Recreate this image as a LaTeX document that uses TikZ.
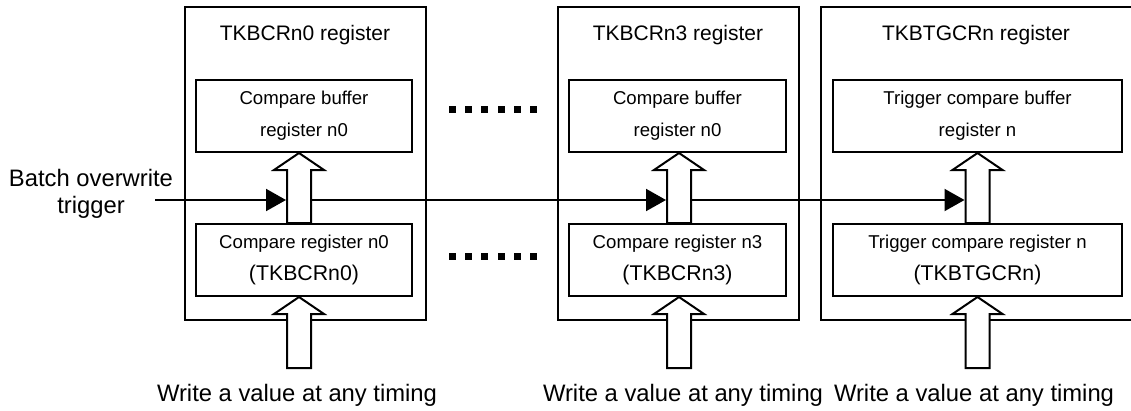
\documentclass[tikz,border=0pt]{standalone}
\usepackage{fontspec}
\setmainfont{Liberation Sans}
\usetikzlibrary{positioning,arrows.meta,calc}

% hollow upward arrow from tail #1 to tip #2
\newcommand{\fatarrow}[2]{%
  \draw[fat] let \p1=(#1), \p2=(#2) in
    (\x1-12pt,\y1) -- (\x1-12pt,\y2-17pt) -- (\x1-25pt,\y2-17pt) -- (\x1,\y2)
    -- (\x1+25pt,\y2-17pt) -- (\x1+12pt,\y2-17pt) -- (\x1+12pt,\y1) -- cycle;}
\newcommand{\regname}[1]{{\fontsize{21.3}{32}\selectfont #1}}

\begin{document}
\begin{tikzpicture}[
    x=1pt, y=-1pt,
    reg/.style={rectangle, draw, line width=2.5pt, minimum height=313pt},
    inner/.style={rectangle, draw, line width=2pt, minimum height=72pt, align=center,
                  font=\fontsize{18.6}{32}\selectfont},
    title/.style={font=\fontsize{21}{25}\selectfont},
    note/.style={font=\fontsize{23.8}{27}\selectfont, align=center},
    fat/.style={draw, fill=white, line width=2pt, line join=miter},
    trig/.style={line width=2pt, -{Triangle[length=20pt,width=22pt]}}
]
\useasboundingbox (0,0) rectangle (1131,410);

% Register boxes
\node[reg, minimum width=241pt] (r0) at (305.5,163.5) {};
\node[reg, minimum width=241pt] (r3) at (678.5,163.5) {};
\node[reg, minimum width=313pt] (rt) at (977.5,163.5) {};

\node[title] (t0) at (305,35) {TKBCRn0 register};
\node[title] (t3) at (678,35) {TKBCRn3 register};
\node[title] (tt) at (976,35) {TKBTGCRn register};

% Inner registers
\node[inner, minimum width=216pt] (cb0) at (304,116) {Compare buffer\\register n0};
\node[inner, minimum width=217pt] (cb3) at (677.5,116) {Compare buffer\\register n0};
\node[inner, minimum width=289pt] (cbt) at (977.5,116) {Trigger compare buffer\\register n};

\node[inner, minimum width=216pt] (cr0) at (304,260) {Compare register n0\\\regname{(TKBCRn0)}};
\node[inner, minimum width=217pt] (cr3) at (677.5,260) {Compare register n3\\\regname{(TKBCRn3)}};
\node[inner, minimum width=289pt] (crt) at (977.5,260) {Trigger compare register n\\\regname{(TKBTGCRn)}};

% Omission dots
\foreach \i in {0,...,5} {
  \fill (449+16.2*\i,105.5) rectangle ++(7,7);
  \fill (449+16.2*\i,252.5) rectangle ++(7,7);
}

% Arrow axes
\coordinate (a0) at (299,368);
\coordinate (a3) at (679,368);
\coordinate (at) at (977.5,368);

% Batch trigger
\node[note] (batch) at (91,194) {Batch overwrite\\trigger};
\coordinate (bt) at (155,200);

\fatarrow{a0}{a0 |- cr0.south}
\fatarrow{a3}{a3 |- cr3.south}
\fatarrow{at}{at |- crt.south}
\fatarrow{a0 |- cr0.north}{a0 |- cb0.south}
\fatarrow{a3 |- cr3.north}{a3 |- cb3.south}
\fatarrow{at |- crt.north}{at |- cbt.south}

\draw[trig, shorten >=13pt] (bt) -- (a0 |- bt);
\draw[trig, shorten <=13pt, shorten >=13pt] (a0 |- bt) -- (a3 |- bt);
\draw[trig, shorten <=13pt, shorten >=13pt] (a3 |- bt) -- (at |- bt);

% Write labels
\node[note] (w0) at (297,395) {Write a value at any timing};
\node[note] (w3) at (683,395) {Write a value at any timing};
\node[note] (wt) at (974,395) {Write a value at any timing};

\end{tikzpicture}
\end{document}
